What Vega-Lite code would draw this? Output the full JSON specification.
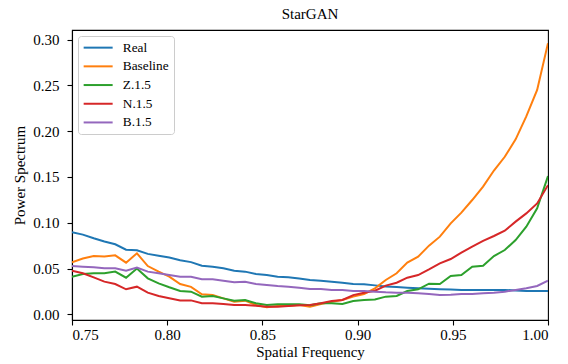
{
  "$schema": "https://vega.github.io/schema/vega-lite/v6.json",
  "width": 476,
  "height": 290,
  "autosize": {"type": "none"},
  "padding": {"left": 72, "top": 30, "right": 20, "bottom": 44},
  "background": "white",
  "title": {"text": "StarGAN", "font": "Liberation Serif", "fontSize": 15, "fontWeight": "normal", "color": "black", "offset": 8},
  "config": {
    "font": "Liberation Serif",
    "view": {"stroke": "black", "strokeWidth": 1.1},
    "axis": {"grid": false, "domainColor": "black", "domainWidth": 1.1, "tickColor": "black", "tickWidth": 1.1, "tickSize": 5, "labelFont": "Liberation Serif", "labelFontSize": 15, "labelColor": "black", "titleFont": "Liberation Serif", "titleFontSize": 15, "titleFontWeight": "normal", "titleColor": "black"},
    "legend": {"labelFont": "Liberation Serif"}
  },
  "data": {"values": [
    {"f":0.75,"Real":0.0895,"Baseline":0.0568,"Z":0.0411,"N":0.0476,"B":0.0527},
    {"f":0.7557,"Real":0.087,"Baseline":0.061,"Z":0.044,"N":0.0448,"B":0.052},
    {"f":0.7614,"Real":0.083,"Baseline":0.0636,"Z":0.0448,"N":0.0404,"B":0.0513},
    {"f":0.767,"Real":0.0795,"Baseline":0.063,"Z":0.0448,"N":0.0357,"B":0.0502},
    {"f":0.7727,"Real":0.0765,"Baseline":0.0644,"Z":0.0466,"N":0.0331,"B":0.0502},
    {"f":0.7784,"Real":0.0705,"Baseline":0.0564,"Z":0.040,"N":0.0273,"B":0.0476},
    {"f":0.7841,"Real":0.070,"Baseline":0.0666,"Z":0.050,"N":0.0302,"B":0.051},
    {"f":0.7898,"Real":0.066,"Baseline":0.0527,"Z":0.0393,"N":0.0237,"B":0.0466},
    {"f":0.7955,"Real":0.064,"Baseline":0.0466,"Z":0.0338,"N":0.020,"B":0.0448},
    {"f":0.8011,"Real":0.062,"Baseline":0.0411,"Z":0.0295,"N":0.0175,"B":0.043},
    {"f":0.8068,"Real":0.059,"Baseline":0.033,"Z":0.0255,"N":0.0152,"B":0.0411},
    {"f":0.8125,"Real":0.057,"Baseline":0.030,"Z":0.0247,"N":0.0152,"B":0.041},
    {"f":0.8182,"Real":0.0531,"Baseline":0.0218,"Z":0.0193,"N":0.012,"B":0.0382},
    {"f":0.8239,"Real":0.052,"Baseline":0.021,"Z":0.020,"N":0.012,"B":0.0382},
    {"f":0.8295,"Real":0.0502,"Baseline":0.0174,"Z":0.0174,"N":0.0113,"B":0.0367},
    {"f":0.8352,"Real":0.0476,"Baseline":0.0138,"Z":0.0149,"N":0.0101,"B":0.0349},
    {"f":0.8409,"Real":0.0466,"Baseline":0.0149,"Z":0.0156,"N":0.0101,"B":0.0356},
    {"f":0.8466,"Real":0.044,"Baseline":0.0101,"Z":0.012,"N":0.0094,"B":0.0331},
    {"f":0.8523,"Real":0.0429,"Baseline":0.0076,"Z":0.0101,"N":0.0083,"B":0.032},
    {"f":0.858,"Real":0.0411,"Baseline":0.009,"Z":0.0109,"N":0.0083,"B":0.0309},
    {"f":0.8636,"Real":0.0404,"Baseline":0.009,"Z":0.0109,"N":0.009,"B":0.0302},
    {"f":0.8693,"Real":0.039,"Baseline":0.0101,"Z":0.0109,"N":0.0098,"B":0.0291},
    {"f":0.875,"Real":0.0375,"Baseline":0.0083,"Z":0.0098,"N":0.0101,"B":0.0276},
    {"f":0.8807,"Real":0.0367,"Baseline":0.0113,"Z":0.012,"N":0.012,"B":0.0276},
    {"f":0.8864,"Real":0.0356,"Baseline":0.0138,"Z":0.012,"N":0.0145,"B":0.0265},
    {"f":0.892,"Real":0.0345,"Baseline":0.0156,"Z":0.0113,"N":0.0156,"B":0.0265},
    {"f":0.8977,"Real":0.0331,"Baseline":0.0193,"Z":0.0145,"N":0.021,"B":0.0254},
    {"f":0.9034,"Real":0.0327,"Baseline":0.0222,"Z":0.0156,"N":0.0236,"B":0.0254},
    {"f":0.9091,"Real":0.0316,"Baseline":0.0284,"Z":0.0163,"N":0.0258,"B":0.0247},
    {"f":0.9148,"Real":0.0305,"Baseline":0.0375,"Z":0.0193,"N":0.0313,"B":0.024},
    {"f":0.9205,"Real":0.0298,"Baseline":0.0448,"Z":0.020,"N":0.0345,"B":0.0236},
    {"f":0.9261,"Real":0.0291,"Baseline":0.0564,"Z":0.0254,"N":0.040,"B":0.0236},
    {"f":0.9318,"Real":0.0284,"Baseline":0.063,"Z":0.0273,"N":0.0429,"B":0.0229},
    {"f":0.9375,"Real":0.0278,"Baseline":0.075,"Z":0.0335,"N":0.049,"B":0.0222},
    {"f":0.9432,"Real":0.0273,"Baseline":0.0848,"Z":0.0331,"N":0.0556,"B":0.0211},
    {"f":0.9489,"Real":0.027,"Baseline":0.0993,"Z":0.0418,"N":0.0604,"B":0.0215},
    {"f":0.9545,"Real":0.0266,"Baseline":0.111,"Z":0.0429,"N":0.0673,"B":0.0222},
    {"f":0.9602,"Real":0.0266,"Baseline":0.1248,"Z":0.052,"N":0.0739,"B":0.0222},
    {"f":0.9659,"Real":0.0266,"Baseline":0.1394,"Z":0.0531,"N":0.0801,"B":0.0229},
    {"f":0.9716,"Real":0.0266,"Baseline":0.157,"Z":0.0636,"N":0.0855,"B":0.0235},
    {"f":0.9773,"Real":0.0266,"Baseline":0.172,"Z":0.0702,"N":0.0913,"B":0.0247},
    {"f":0.983,"Real":0.026,"Baseline":0.191,"Z":0.0811,"N":0.1012,"B":0.0266},
    {"f":0.9886,"Real":0.0255,"Baseline":0.216,"Z":0.0957,"N":0.1102,"B":0.0284},
    {"f":0.9943,"Real":0.0255,"Baseline":0.245,"Z":0.1157,"N":0.1211,"B":0.0309},
    {"f":1.0,"Real":0.0255,"Baseline":0.296,"Z":0.151,"N":0.141,"B":0.0367}
  ]},
  "transform": [{"fold": ["Real", "Baseline", "Z", "N", "B"], "as": ["series", "value"]}],
  "mark": {"type": "line", "strokeWidth": 2, "clip": true},
  "encoding": {
    "x": {"field": "f", "type": "quantitative", "title": "Spatial Frequency",
      "scale": {"domain": [0.75, 1.0], "nice": false, "zero": false},
      "axis": {"values": [0.75, 0.8, 0.85, 0.9, 0.95, 1.0], "format": ".2f", "labelPadding": 2, "titlePadding": 2}},
    "y": {"field": "value", "type": "quantitative", "title": "Power Spectrum",
      "scale": {"domain": [-0.0062, 0.3104], "nice": false, "zero": false},
      "axis": {"values": [0, 0.05, 0.1, 0.15, 0.2, 0.25, 0.3], "format": ".2f", "labelPadding": 8, "titlePadding": 5}},
    "color": {"field": "series", "type": "nominal",
      "scale": {"domain": ["Real", "Baseline", "Z", "N", "B"], "range": ["#1f77b4", "#ff7f0e", "#2ca02c", "#d62728", "#9467bd"]},
      "legend": {"orient": "none", "legendX": 6, "legendY": 6, "title": null,
        "labelExpr": "datum.label === 'Real' || datum.label === 'Baseline' ? datum.label : datum.label + '.1.5'",
        "symbolType": "M-3,0H3", "symbolSize": 93.4, "symbolStrokeWidth": 2, "symbolOffset": 8.5,
        "labelFont": "Liberation Serif", "labelFontSize": 13.3, "labelColor": "black", "labelOffset": 18,
        "rowPadding": 4.7, "padding": 5, "strokeColor": "#cccccc", "fillColor": "rgba(255,255,255,0.8)", "cornerRadius": 3}}
  }
}
